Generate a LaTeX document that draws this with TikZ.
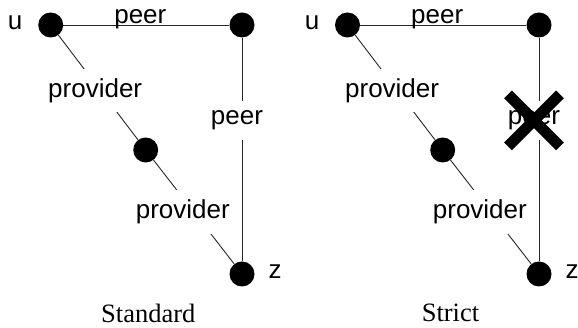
\documentclass[tikz,border=0pt]{standalone}
\usepackage{fontspec}
\setmainfont{Liberation Serif}
\setsansfont{Liberation Sans}
\begin{document}
\begin{tikzpicture}[x=1pt,y=-1pt,
  dot/.style={circle,fill=black,minimum size=25pt,inner sep=0pt},
  link/.style={draw=black!85,line width=0.9pt},
  lbl/.style={font=\sffamily\fontsize{26}{30}\selectfont,fill=white,inner xsep=2pt,inner ysep=9.5pt},
  toplbl/.style={font=\sffamily\fontsize{26}{30}\selectfont,inner sep=0pt,anchor=south},
  vlabel/.style={font=\sffamily\fontsize{26}{30}\selectfont,inner sep=0pt},
  caption/.style={font=\rmfamily\fontsize{26.5}{30}\selectfont,inner sep=0pt},
  cross/.style={line width=11pt,line cap=butt,draw=black}]
\useasboundingbox (0,0) rectangle (578,328);

% ---- Standard ----
\node[dot] (su) at (50.7,25) {};
\node[dot] (sa) at (242,25) {};
\node[dot] (sm) at (145.7,150) {};
\node[dot] (sz) at (242,274) {};
\node[vlabel] (sul) at (15,23) {u};
\node[vlabel] (szl) at (275,272) {z};

\draw[link] (su) -- node[toplbl,xshift=-6pt,yshift=-4.5pt] {peer} (sa);
\draw[link] (sa) -- node[lbl,pos=0.37,xshift=-5pt] {peer} (sz);
\draw[link] (su) -- node[lbl,xshift=-3pt,yshift=-3pt] {provider} (sm);
\draw[link] (sm) -- node[lbl,xshift=-11pt] {provider} (sz);

\node[caption] (scap) at (148.3,313) {Standard};

% ---- Strict ----
\node[dot] (tu) at (347.5,25) {};
\node[dot] (ta) at (539,25) {};
\node[dot] (tm) at (442.7,150) {};
\node[dot] (tz) at (539,274) {};
\node[vlabel] (tul) at (312,23) {u};
\node[vlabel] (tzl) at (572,272) {z};

\draw[link] (tu) -- node[toplbl,xshift=-6pt,yshift=-4.5pt] {peer} (ta);
\draw[link] (ta) -- node[lbl,pos=0.37,xshift=-5pt] (tp) {peer} (tz);
\draw[link] (tu) -- node[lbl,xshift=-3pt,yshift=-3pt] {provider} (tm);
\draw[link] (tm) -- node[lbl,xshift=-11pt] {provider} (tz);

% blocked peer link
\draw[cross] ([shift={(-26,-26)}]tp.center) -- ([shift={(26,26)}]tp.center);
\draw[cross] ([shift={(-26,26)}]tp.center) -- ([shift={(26,-26)}]tp.center);

\node[caption] (tcap) at (450.5,313) {Strict};
\end{tikzpicture}
\end{document}
